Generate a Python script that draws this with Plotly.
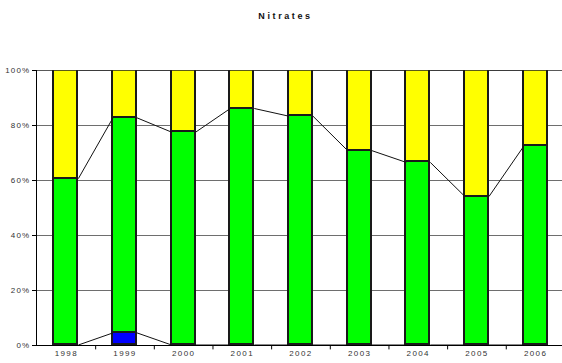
import plotly.graph_objects as go

# Nitrate share per year (percent of samples), stacked to 100 %
years = ["1998", "1999", "2000", "2001", "2002", "2003", "2004", "2005", "2006"]
blue_pct = [0.0, 4.4, 0.0, 0.0, 0.0, 0.0, 0.0, 0.0, 0.0]
green_pct = [60.5, 78.2, 77.4, 86.0, 83.2, 70.7, 66.4, 54.0, 72.2]
yellow_pct = [round(100 - b - g, 1) for b, g in zip(blue_pct, green_pct)]

y_ticks = [0, 20, 40, 60, 80, 100]
y_tick_text = ["0%", "20%", "40%", "60%", "80%", "100%"]


def spaced(s, px):
    return f'<span style="letter-spacing:{px}px">{s}</span>'


bar_width = 0.41
edge = "#1a1a1a"

fig = go.Figure()
for name, vals, col in [("blue", blue_pct, "#0000FF"),
                        ("green", green_pct, "#00FF00"),
                        ("yellow", yellow_pct, "#FFFF00")]:
    fig.add_trace(go.Bar(
        x=list(range(len(years))), y=vals, name=name, width=bar_width,
        marker=dict(color=col, line=dict(color=edge, width=1.6)),
        showlegend=False, hoverinfo="skip",
    ))

# series lines joining the top of each stack level between neighbouring bars
cum_levels = []
run = [0.0] * len(years)
for vals in (blue_pct, green_pct, yellow_pct):
    run = [r + v for r, v in zip(run, vals)]
    cum_levels.append(run)

for level in cum_levels:
    xs, ys = [], []
    for i in range(len(years) - 1):
        xs += [i + bar_width / 2, i + 1 - bar_width / 2, None]
        ys += [level[i], level[i + 1], None]
    fig.add_trace(go.Scatter(x=xs, y=ys, mode="lines",
                             line=dict(color="#111111", width=1),
                             showlegend=False, hoverinfo="skip"))

font_family = "Liberation Sans, Arial, sans-serif"
fig.update_layout(
    width=562, height=363,
    margin=dict(l=37, r=0, t=70, b=18),
    barmode="stack",
    bargap=0,
    paper_bgcolor="white", plot_bgcolor="white",
    font=dict(family=font_family, size=8, color="#222222"),
    title=dict(text=spaced("<b>Nitrates</b>", 2.6), x=0.508, xanchor="center",
               y=0.955, yanchor="middle",
               font=dict(family=font_family, size=9, color="#111111")),
    xaxis=dict(
        range=[-0.5, 8.45],
        tickmode="array",
        tickvals=list(range(len(years))),
        ticktext=[spaced(y, 1.4) for y in years],
        showgrid=False,
        showline=True, linecolor="#000000", linewidth=1,
        ticks="", zeroline=False,
        tickfont=dict(size=8, color="#333333"),
    ),
    yaxis=dict(
        range=[0, 100],
        tickvals=y_ticks, ticktext=[spaced(t, 1.2) for t in y_tick_text],
        showgrid=True, gridcolor="#6e6e6e", gridwidth=1,
        showline=True, linecolor="#000000", linewidth=1,
        ticks="outside", ticklen=4, tickcolor="#000000",
        zeroline=False,
        tickfont=dict(size=8, color="#333333"),
    ),
)

# tick marks on the category boundaries below the x axis
for i in range(len(years)):
    b = i + 0.5
    if b < 8.45:
        fig.add_shape(type="line", xref="x", yref="paper",
                      x0=b, x1=b, y0=0, y1=-0.016,
                      line=dict(color="#000000", width=1))

# dark border along the 100 % line
fig.add_shape(type="line", xref="paper", yref="y", x0=0, x1=1, y0=100, y1=100,
              line=dict(color="#222222", width=1.5))

fig.write_html("out.html")
